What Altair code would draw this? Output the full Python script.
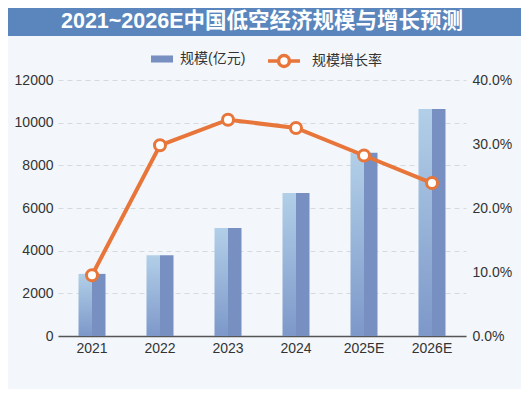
import altair as alt
import pandas as pd

# ---------------- data ----------------
years = ["2021", "2022", "2023", "2024", "2025E", "2026E"]
scale_vals = [2912, 3781, 5060, 6702, 8592, 10645]          # 亿元
growth = [0.095, 0.298, 0.338, 0.325, 0.282, 0.239]         # 增长率
left_ticks = [0, 2000, 4000, 6000, 8000, 10000, 12000]
right_ticks = [0.0, 0.1, 0.2, 0.3, 0.4]
title_text = "2021~2026E中国低空经济规模与增长预测"
bar_name = "规模(亿元)"
line_name = "规模增长率"

df = pd.DataFrame({"year": years, "scale": scale_vals, "growth": growth,
                   "s_bar": bar_name, "s_line": line_name})
tdf = pd.DataFrame({"t": [title_text]})

FONT = "Liberation Sans, Noto Sans CJK SC, sans-serif"
ORANGE = "#e8763a"
BG = "#f3f7fb"

x = alt.X("year:N", sort=years,
          scale=alt.Scale(paddingInner=0, paddingOuter=0),
          axis=alt.Axis(title=None, labelAngle=0, labelFontSize=14, labelColor="#333",
                        labelPadding=5, ticks=False, domainColor="#555", domainWidth=1.5,
                        labelFont=FONT))

yL = alt.Y("scale:Q", scale=alt.Scale(domain=[0, 12000]),
           axis=alt.Axis(title=None, values=left_ticks, format="d", grid=True, gridDash=[5, 4],
                         gridColor="#d5dadf", gridWidth=1, domain=False, ticks=False,
                         labelPadding=5, labelFontSize=14, labelColor="#333", labelFont=FONT))

yR = alt.Y("growth:Q", scale=alt.Scale(domain=[0, 0.4]),
           axis=alt.Axis(title=None, orient="right", values=right_ticks, format=".1%",
                         grid=False, domain=False, ticks=False, labelPadding=6,
                         labelFontSize=14, labelColor="#333", labelFont=FONT))

left_grad = alt.Gradient(gradient="linear", x1=0, x2=0, y1=0, y2=1,
                         stops=[alt.GradientStop(color="#b2cfe8", offset=0),
                                alt.GradientStop(color="#7d98c9", offset=1)])

bar_left = alt.Chart(df).mark_bar(width=13.5, xOffset=-6.75, color=left_grad).encode(x=x, y=yL)
bar_right = alt.Chart(df).mark_bar(width=13.5, xOffset=6.75).encode(
    x=x, y=yL,
    fill=alt.Fill("s_bar:N", scale=alt.Scale(domain=[bar_name], range=["#7790c1"]),
                  legend=alt.Legend(title=None, orient="none", legendX=93, legendY=-32,
                                    symbolType="M-1,-0.32H1V0.32H-1Z", symbolSize=484,
                                    symbolStrokeWidth=0, labelFontSize=14, labelColor="#333",
                                    labelFont=FONT, labelOffset=7, padding=0)))

line = alt.Chart(df).mark_line(strokeWidth=4).encode(
    x=x, y=yR,
    stroke=alt.Stroke("s_line:N", scale=alt.Scale(domain=[line_name], range=[ORANGE]),
                      legend=alt.Legend(title=None, orient="none", legendX=208, legendY=-37,
                                        symbolType="M-1,0H-0.36M0.36,0H1M-0.34,0A0.34,0.34,0,1,0,0.34,0A0.34,0.34,0,1,0,-0.34,0",
                                        symbolSize=1024, symbolStrokeWidth=3.5,
                                        symbolFillColor="white", labelFontSize=14,
                                        labelColor="#333", labelFont=FONT, labelOffset=10,
                                        padding=0)))
points = alt.Chart(df).mark_point(shape="circle", filled=True, fill="white", stroke=ORANGE,
                                  strokeWidth=3, size=121, opacity=1).encode(x=x, y=yR)

title_bar = alt.Chart(tdf).mark_rect(color="#5a86bd").encode(
    x=alt.value(-50), x2=alt.value(463), y=alt.value(-72), y2=alt.value(-44))
title_txt = alt.Chart(tdf).mark_text(fontSize=21.5, fontWeight="bold", color="white", font=FONT,
                                     align="center", baseline="middle").encode(
    x=alt.value(204), y=alt.value(-58), text="t:N")

chart = alt.layer(
    title_bar, title_txt,
    alt.layer(bar_left, bar_right),
    alt.layer(line, points),
).resolve_scale(y="independent").properties(
    width=408, height=256,
    autosize=alt.AutoSizeParams(type="none"),
    padding={"left": 50, "top": 72, "right": 55, "bottom": 53},
    background=BG,
).configure_view(stroke=None)

chart.save("out.html", embed_options={"renderer": "svg", "actions": False})
